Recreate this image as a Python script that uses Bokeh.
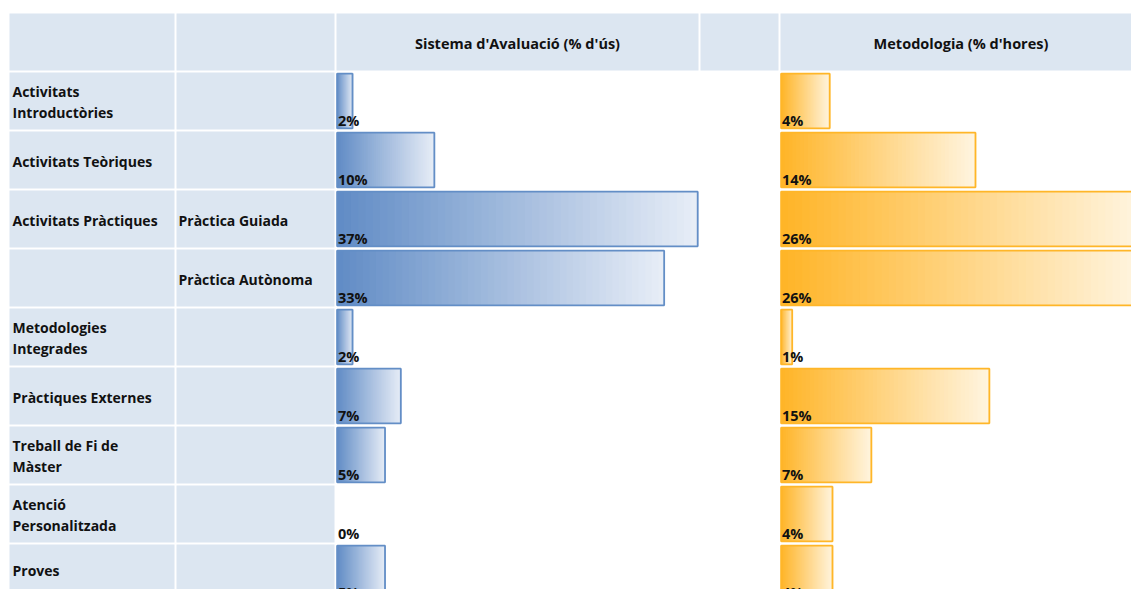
from bokeh.plotting import figure
from bokeh.models import Range1d
from bokeh.embed import file_html
from bokeh.resources import INLINE
from bokeh.core.properties import value

# ---------------- data ----------------
categories = ["Activitats\nIntroductòries", "Activitats Teòriques", "Activitats Pràctiques", "",
              "Metodologies\nIntegrades", "Pràctiques Externes", "Treball de Fi de\nMàster",
              "Atenció\nPersonalitzada", "Proves"]
subcategories = ["", "", "Pràctica Guiada", "Pràctica Autònoma", "", "", "", "", ""]
avaluacio = [1.7, 10.0, 36.7, 33.3, 1.7, 6.6, 5.0, 0.0, 5.0]      # Sistema d'Avaluació (% d'ús)
metodologia = [3.6, 14.1, 26.0, 26.0, 0.9, 15.1, 6.6, 3.8, 3.8]   # Metodologia (% d'hores)
headers = ["", "", "Sistema d'Avaluació (% d'ús)", "", "Metodologia (% d'hores)"]

# ---------------- layout / style ----------------
W, H = 1131, 589
FONT = "Open Sans"
FS = "14px"
CELL_BG = "#DCE6F1"
col_edges = [(9, 174), (176, 334), (336, 698), (700, 778), (780, 1141)]
header_span = (13, 70)
row_top0, row_pitch, row_h = 72, 59, 57

p = figure(width=W, height=H, output_backend="svg", toolbar_location=None, tools="",
           x_range=Range1d(0, W), y_range=Range1d(H, 0), min_border=0)
p.axis.visible = False
p.grid.visible = False
p.outline_line_color = None
p.background_fill_color = "white"
p.border_fill_color = "white"

n = len(categories)
rows = [(row_top0 + i * row_pitch, row_top0 + i * row_pitch + row_h) for i in range(n)]

# header cells
p.quad(left=[c[0] for c in col_edges], right=[c[1] for c in col_edges],
       top=[header_span[0]] * 5, bottom=[header_span[1]] * 5,
       fill_color=CELL_BG, line_color=None)
# label cells (columns A and B)
for ci in (0, 1):
    p.quad(left=[col_edges[ci][0]] * n, right=[col_edges[ci][1]] * n,
           top=[r[0] for r in rows], bottom=[r[1] for r in rows],
           fill_color=CELL_BG, line_color=None)

# header texts
hx = [(c[0] + c[1]) / 2 for c in col_edges]
p.text(x=hx, y=[(header_span[0] + header_span[1]) / 2 + 1] * 5, text=headers,
       text_font=value(FONT), text_font_style="bold", text_font_size="14.5px",
       text_align="center", text_baseline="middle", text_color="#111111")

# row labels (vertically centred in the visible part of each row)
label_y = [min((r[0] + r[1]) / 2 + 1, H - 19) for r in rows]
p.text(x=[col_edges[0][0] + 3] * n, y=label_y, text=categories,
       text_font=value(FONT), text_font_style="bold", text_font_size=FS,
       text_align="left", text_baseline="middle", text_color="#111111",
       text_line_height=1.15)
p.text(x=[col_edges[1][0] + 2] * n, y=label_y, text=subcategories,
       text_font=value(FONT), text_font_style="bold", text_font_size=FS,
       text_align="left", text_baseline="middle", text_color="#111111")


def lerp(c0, c1, t):
    return "#%02x%02x%02x" % tuple(int(round(a + (b - a) * t)) for a, b in zip(c0, c1))


def data_bars(vals, col, c_start, c_end, border):
    x0, x1 = col_edges[col]
    scale = (x1 - x0) / max(vals)
    steps = 50
    L, R, T, B, C = [], [], [], [], []
    for v, (rt, rb) in zip(vals, rows):
        w = v * scale
        if w <= 0:
            continue
        for k in range(steps):
            L.append(x0 + w * k / steps)
            R.append(min(x0 + w * (k + 1) / steps + 2.0, x0 + w))
            T.append(rt + 0.8)
            B.append(rb - 0.8)
            C.append(lerp(c_start, c_end, (k + 0.5) / steps))
    p.quad(left=L, right=R, top=T, bottom=B, fill_color=C, line_color=None)
    bl = [x0 + 0.8 for v in vals if v > 0]
    br = [x0 + v * scale - 0.8 for v in vals if v > 0]
    bt = [r[0] + 1.2 for v, r in zip(vals, rows) if v > 0]
    bb = [r[1] - 1.2 for v, r in zip(vals, rows) if v > 0]
    p.quad(left=bl, right=br, top=bt, bottom=bb, fill_color=None,
           line_color=border, line_width=1.8)
    p.text(x=[x0 + 1.5] * len(vals), y=[r[1] - 9.5 for r in rows],
           text=[f"{v:.0f}%" for v in vals],
           text_font=value(FONT), text_font_style="bold", text_font_size="14.5px",
           text_align="left", text_baseline="middle", text_color="#111111")


data_bars(avaluacio, 2, (96, 139, 197), (232, 238, 247), "#638EC6")
data_bars(metodologia, 4, (255, 180, 38), (255, 245, 225), "#FFB628")

open("out.html", "w").write(file_html(p, INLINE))
